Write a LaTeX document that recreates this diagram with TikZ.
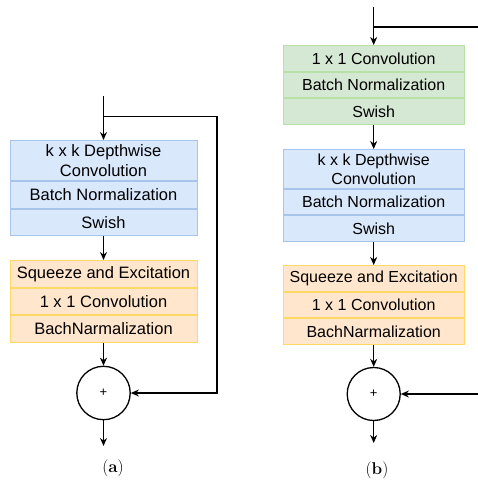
\documentclass[tikz,border=0pt]{standalone}
\usepackage{fontspec}
\newfontfamily\boxfont{Liberation Sans}
\usetikzlibrary{arrows.meta,positioning}

\definecolor{bluefill}{HTML}{DAE8FC}
\definecolor{blueline}{HTML}{A9C4EB}
\definecolor{orangefill}{HTML}{FFE6CC}
\definecolor{orangeline}{HTML}{FFD966}
\definecolor{greenfill}{HTML}{D5E8D4}
\definecolor{greenline}{HTML}{B9E0A5}

\tikzset{
  row/.style={draw, line width=1pt, inner sep=0pt, align=center, anchor=north},
  rowa/.style={row, minimum width=187pt, minimum height=26.6pt, font=\boxfont\fontsize{16.5}{19.7}\selectfont},
  rowb/.style={row, minimum width=181pt, minimum height=25.7pt, font=\boxfont\fontsize{16}{19}\selectfont},
  bluerow/.style={fill=bluefill, draw=blueline},
  orangerow/.style={fill=orangefill, draw=orangeline},
  greenrow/.style={fill=greenfill, draw=greenline},
  sum/.style={draw, circle, line width=1.3pt, inner sep=0pt, font=\boxfont\fontsize{13}{15}\selectfont},
  arr/.style={line width=1.3pt, -{Stealth[length=8pt, width=7pt]}},
  caption/.style={font=\fontsize{17}{20}\selectfont}
}

\begin{document}
\begin{tikzpicture}[x=1pt, y=-1pt]
\useasboundingbox (0,0) rectangle (478,482);

% (a) block without expansion
\node[rowa, bluerow, minimum height=40pt] (adw) at (103.5,140) {k x k Depthwise\\Convolution};
\node[rowa, bluerow] (abn) at (adw.south) {Batch Normalization};
\node[rowa, bluerow] (asw) at (abn.south) {Swish};
\node[rowa, orangerow] (ase) at (103.5,260) {Squeeze and Excitation};
\node[rowa, orangerow] (apw) at (ase.south) {1 x 1 Convolution};
\node[rowa, orangerow] (abn2) at (apw.south) {BachNarmalization};
\node[sum, minimum size=53.4pt] (asum) at (103.5,393) {+};
\coordinate (ain) at (103.5,96);
\coordinate (askip) at (217,116.7);
\coordinate (aout) at (103.5,446);

\draw[arr] (ain) -- (adw.north);
\draw[arr] (ain |- askip) -- (askip) |- (asum.east);
\draw[arr] (asw.south) -- (ase.north);
\draw[arr] (abn2.south) -- (asum.north);
\draw[arr] (asum.south) -- (aout);
\node[caption] (acap) at (113,468) {(\textbf{a})};

% (b) block with expansion
\node[rowb, greenrow] (bex) at (373.7,45) {1 x 1 Convolution};
\node[rowb, greenrow] (bbn) at (bex.south) {Batch Normalization};
\node[rowb, greenrow] (bsw) at (bbn.south) {Swish};
\node[rowb, bluerow, minimum height=38.7pt] (bdw) at (373.7,149) {k x k Depthwise\\Convolution};
\node[rowb, bluerow] (bbn2) at (bdw.south) {Batch Normalization};
\node[rowb, bluerow] (bsw2) at (bbn2.south) {Swish};
\node[rowb, orangerow] (bse) at (373.7,265) {Squeeze and Excitation};
\node[rowb, orangerow] (bpw) at (bse.south) {1 x 1 Convolution};
\node[rowb, orangerow] (bbn3) at (bpw.south) {BachNarmalization};
\node[sum, minimum size=53pt] (bsum) at (373.7,394) {+};
\coordinate (bin) at (373.7,7);
\coordinate (bskip) at (478,27);
\coordinate (bback) at (478,394);
\coordinate (bout) at (373.7,443);

\draw[arr] (bin) -- (bex.north);
\draw[line width=1.3pt] (bin |- bskip) -- (bskip);
\draw[arr] (bsw.south) -- (bdw.north);
\draw[arr] (bsw2.south) -- (bse.north);
\draw[arr] (bbn3.south) -- (bsum.north);
\draw[arr] (bback) -- (bsum.east);
\draw[arr] (bsum.south) -- (bout);
\node[caption] (bcap) at (377,470) {(\textbf{b})};
\end{tikzpicture}
\end{document}
